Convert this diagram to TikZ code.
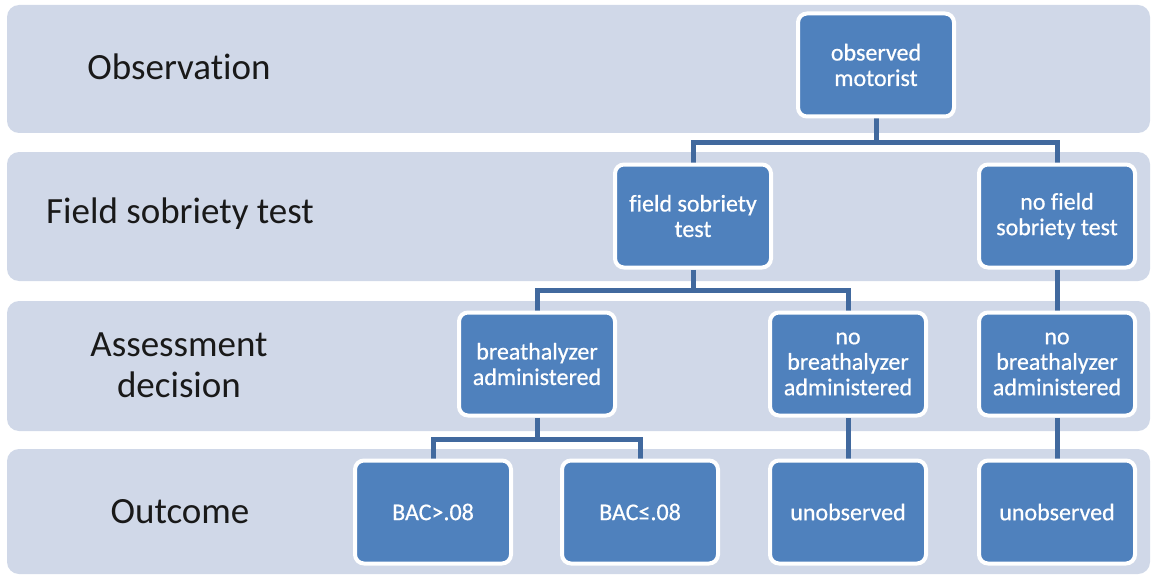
\documentclass[tikz,border=0pt]{standalone}
\usepackage{fontspec}
\setmainfont[Ligatures={NoCommon}]{Carlito}
\newfontfamily\boxfont[Ligatures={NoCommon},FakeBold=0.6]{Carlito}
\usetikzlibrary{backgrounds}
\definecolor{bandfill}{HTML}{D0D8E8}
\definecolor{boxfill}{HTML}{4F81BD}
\definecolor{linkcol}{HTML}{41699E}

\begin{document}
\begin{tikzpicture}[x=1pt,y=-1pt,
                    band/.style={fill=bandfill,rounded corners=12pt},
                    row label/.style={font=\fontsize{37}{41}\selectfont,text=black!90,align=center},
                    main node/.style={rectangle,rounded corners=9pt,draw=white,line width=4pt,fill=boxfill,
                      minimum width=156pt,minimum height=103pt,align=center,text=white,
                      font=\boxfont\fontsize{24}{25.5}\selectfont},
                    link/.style={draw=linkcol,line width=5pt}]
  \useasboundingbox (0,0) rectangle (1153,575);

  \node[main node] (1) at (876,65) {observed\\motorist};
  \node[main node] (2) at (693,216) {field sobriety\\test};
  \node[main node] (3) at (1057,216) {no field\\sobriety test};
  \node[main node] (4) at (537,364) {breathalyzer\\administered};
  \node[main node] (5) at (848,364) {no\\breathalyzer\\administered};
  \node[main node] (6) at (1057,364) {no\\breathalyzer\\administered};
  \node[main node] (7) at (433,512) {BAC>.08};
  \node[main node] (8) at (640,512) {BAC≤.08};
  \node[main node] (9) at (848,512) {unobserved};
  \node[main node] (10) at (1057,512) {unobserved};

  \node[row label] (obs) at (179,67) {Observation};
  \node[row label] (fst) at (180,214) {Field sobriety test};
  \node[row label] (ad) at (179,365) {Assessment\\decision};
  \node[row label] (out) at (180,512) {Outcome};

  \begin{scope}[on background layer]
    \fill[band] (7,5) rectangle (1150,133);
    \fill[band] (7,152) rectangle (1150,281);
    \fill[band] (7,301) rectangle (1150,431);
    \fill[band] (7,449) rectangle (1150,574);

    \path[link]
      (1.south) -- ++(0,24) -| (2.north)
      (1.south) -- ++(0,24) -| (3.north)
      (2.south) -- ++(0,21) -| (4.north)
      (2.south) -- ++(0,21) -| (5.north)
      (4.south) -- ++(0,22) -| (7.north)
      (4.south) -- ++(0,22) -| (8.north)
      (3) -- (6)
      (5) -- (9)
      (6) -- (10);
  \end{scope}
\end{tikzpicture}
\end{document}
